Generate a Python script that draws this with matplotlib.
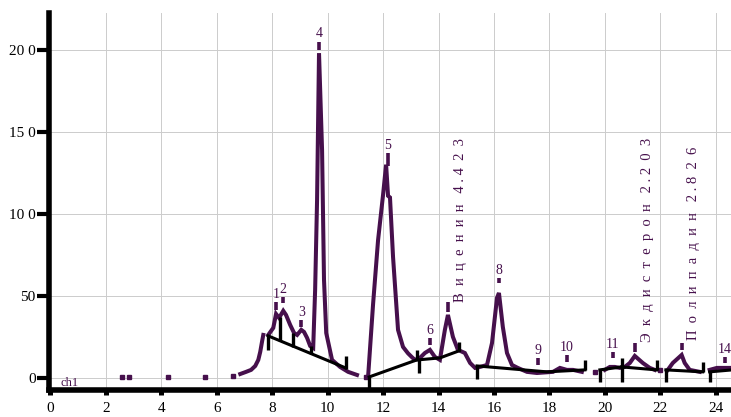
#!/usr/bin/env python3
"""Chromatogram ch1 with integration baselines and peak labels."""
import matplotlib

matplotlib.use("Agg")
import matplotlib.pyplot as plt
import numpy as np

nan = np.nan

# main detector trace (min, mAU); nan = break in the trace
TRACE_X = [
    6.85, 7.06, 7.24, 7.39, 7.50, 7.57, 7.64, 7.68, nan,
    7.86, 8.04, 8.14, 8.25, 8.40, 8.50, 8.65, 8.79, 8.90, 9.05, 9.15, 9.26, 9.37, 9.48,
    9.55, 9.62, 9.69, 9.80, 9.87, 9.95, 10.16, 10.45, 10.74, 11.06, nan,
    11.46, 11.64, 11.82, 12.00, 12.11, 12.18, 12.25, 12.36, 12.54, 12.72, 12.90, 13.05, 13.15,
    13.33, 13.51, 13.69, 13.87, 14.05, 14.23, 14.34, 14.52, 14.70, 14.95, 15.14, 15.32,
    15.50, 15.75, 15.93, 16.11, 16.18, 16.32, 16.47, 16.65, 16.86, 17.19, 17.55, 18.13,
    18.38, 18.63, 18.85, 19.17, nan,
    20.00, 20.18, 20.36, 20.54, 20.72, 20.90, 21.08, 21.37, 21.62, 21.80, nan,
    22.27, 22.45, 22.77, 22.88, 23.06, 23.42, nan,
    23.78, 24.04, 24.60,
]
TRACE_Y = [
    2.4, 3.7, 4.9, 7.3, 11.0, 15.9, 22.6, 26.2, nan,
    26.2, 30.5, 39.0, 36.6, 40.9, 38.4, 32.3, 27.4, 26.2, 29.3, 28.0, 24.4, 19.5, 18.3,
    53.7, 108.5, 198.0, 139.0, 59.8, 27.4, 11.0, 6.7, 3.7, 1.8, nan,
    0.6, 45.0, 84.0, 111.6, 130.0, 111.0, 110.0, 73.8, 29.3, 18.9, 15.0, 12.5, 11.0,
    12.2, 15.2, 17.1, 12.8, 11.0, 29.3, 38.4, 25.0, 17.1, 15.2, 9.1, 6.1,
    6.7, 7.9, 21.3, 48.8, 51.8, 31.1, 15.2, 7.9, 6.1, 3.7, 3.0, 3.7,
    6.1, 4.9, 4.9, 3.7, nan,
    4.9, 6.7, 6.7, 6.1, 6.7, 9.1, 13.4, 9.1, 6.1, 4.9, nan,
    4.9, 9.1, 14.0, 9.1, 4.9, 3.7, nan,
    4.9, 6.1, 6.1,
]

# isolated points of the trace
DOT_X = [2.59, 2.85, 4.25, 5.59, 6.59, 11.39, 19.64, 21.98]
DOT_Y = [0.6, 0.6, 0.6, 0.6, 1.2, 0.6, 3.7, 4.9]

# peaks: apex time, apex marker bottom/top, label ('' = hidden)
PEAK_X = [8.14, 8.40, 9.05, 9.69, 12.18, 13.69, 14.34, 16.18, 17.59, 18.63, 20.29, 21.08, 22.77, 24.32]
MARK_LO = [41.5, 45.7, 31.1, 200.0, 129.3, 20.1, 40.2, 57.9, 7.9, 9.8, 12.2, 15.9, 17.1, 9.1]
MARK_HI = [46.3, 49.4, 35.4, 204.9, 137.2, 24.4, 46.3, 61.0, 12.2, 14.0, 15.9, 21.3, 21.3, 12.8]
PEAK_LABELS = ["1", "2", "3", "4", "5", "6", "", "8", "9", "10", "11", "", "", "14"]

# integration baselines: (x list, y list)
BASE_LINES = [
    ([7.86, 10.65], [25.6, 6.1]),
    ([11.50, 13.22], [0.6, 11.0]),
    ([13.26, 14.05, 14.74], [11.0, 12.2, 16.5]),
    ([15.39, 17.91, 19.28], [7.3, 3.7, 4.9]),
    ([19.82, 20.61], [4.9, 6.7]),
    ([20.61, 21.87], [6.7, 4.9]),
    ([22.20, 23.53], [4.9, 3.7]),
    ([23.78, 24.60], [3.7, 4.9]),
]
# vertical drop / boundary lines: x, y from, y to
DROP_X = [7.86, 8.29, 8.76, 9.41, 10.65, 11.50, 13.22, 13.30, 14.74, 15.39, 19.28,
          19.82, 20.61, 21.87, 22.20, 23.53, 23.78]
DROP_LO = [17.1, 22.6, 18.9, 14.6, 5.5, -6.7, 11.0, 3.0, 16.5, -0.6, 4.9,
           -2.4, -2.4, 4.9, -2.4, 3.7, -2.4]
DROP_HI = [26.2, 37.2, 27.4, 19.5, 13.4, 0.6, 17.1, 11.0, 22.0, 7.3, 11.0,
           4.9, 12.2, 11.0, 4.9, 9.8, 3.7]

# identified compounds (vertical text): name, amount
COMPOUND_NAMES = ["Виценин", "Экдистерон", "Полипадин"]
COMPOUND_AMOUNTS = ["4.423", "2.203", "2.826"]
COMPOUND_X = [14.80, 21.55, 23.18]
COMPOUND_Y = [46.5, 22.0, 23.0]

Y_TICKS = [0, 50, 100, 150, 200]
Y_TICK_LABELS = ["0", "50", "10 0", "15 0", "20 0"]
X_TICKS = list(range(0, 25, 2))

PURPLE = "#46104c"


def spaced(name: str, amount: str) -> str:
    """Letter-spaced text as the integrator prints it."""
    head, tail = amount.split(".")
    return "  ".join(name) + "   " + head + " . " + "  ".join(tail)


def main() -> None:
    plt.rcParams["font.family"] = ["Liberation Serif", "DejaVu Serif"]
    fig = plt.figure(figsize=(7.31, 4.17), dpi=100)
    ax = fig.add_axes([0.067, 0.065, 0.933, 0.904])

    ax.plot(TRACE_X, TRACE_Y, color=PURPLE, lw=2.9, solid_joinstyle="miter", zorder=3)
    ax.plot(DOT_X, DOT_Y, ls="none", marker="s", ms=3.5, color=PURPLE, zorder=3)

    for xs, ys in BASE_LINES:
        ax.plot(xs, ys, color="black", lw=2.2, zorder=4)
    ax.vlines(DROP_X, DROP_LO, DROP_HI, color="black", lw=2.4, zorder=4)

    ax.vlines(PEAK_X, MARK_LO, MARK_HI, color=PURPLE, lw=2.6, zorder=4)
    for x, top, label in zip(PEAK_X, MARK_HI, PEAK_LABELS):
        if label:
            ax.text(x, top + 0.8, label, ha="center", va="bottom", fontsize=10, color=PURPLE)

    for name, amount, x, y in zip(COMPOUND_NAMES, COMPOUND_AMOUNTS, COMPOUND_X, COMPOUND_Y):
        ax.text(x, y, spaced(name, amount), rotation=90, ha="center", va="bottom",
                fontsize=10.5, color=PURPLE)

    ax.text(0.35, -7.0, "ch1", ha="left", va="bottom", fontsize=9, color=PURPLE)

    ax.set_xlim(-0.05, 24.55)
    ax.set_ylim(-7.3, 222.5)
    ax.set_xticks(X_TICKS)
    ax.set_yticks(Y_TICKS)
    ax.set_yticklabels(Y_TICK_LABELS)
    ax.grid(True, color="#cccccc", lw=0.7)
    ax.set_axisbelow(True)

    for side in ("top", "right"):
        ax.spines[side].set_visible(False)
    for side in ("left", "bottom"):
        ax.spines[side].set_linewidth(4.0)
        ax.spines[side].set_color("black")
    ax.tick_params(axis="y", direction="out", length=8.5, width=3.0, pad=1, labelsize=11)
    ax.tick_params(axis="x", direction="out", length=3.5, width=3.6, pad=5, labelsize=11)

    fig.savefig("out.png", dpi=100)
    plt.close(fig)


if __name__ == "__main__":
    main()
